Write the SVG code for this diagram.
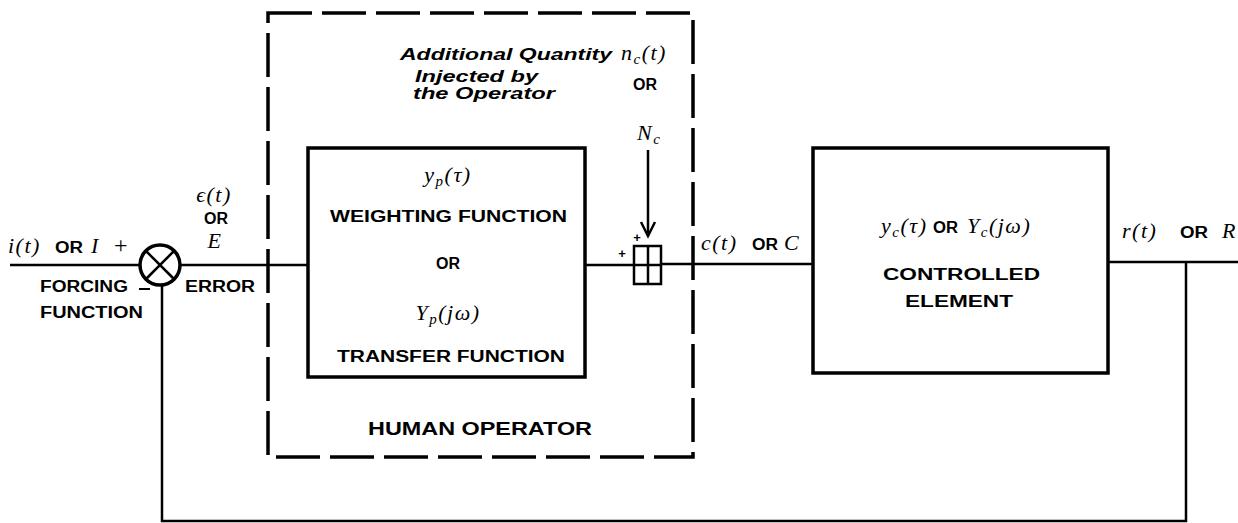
<svg xmlns="http://www.w3.org/2000/svg" width="1238" height="523" viewBox="0 0 1238 523">
<style>
.ln{stroke:#000;stroke-width:2.5;fill:none}
.box{stroke:#000;stroke-width:3.5;fill:none}
.dash{stroke:#000;stroke-width:3.5;fill:none;stroke-dasharray:44 10}
.cap{font-family:"Liberation Sans",Arial,sans-serif;font-weight:bold;font-size:16px;fill:#000}
.it{font-family:"Liberation Sans",Arial,sans-serif;font-style:italic;font-weight:bold;font-size:17px;fill:#000}
.m{font-family:"Liberation Serif","Times New Roman",serif;font-style:italic;font-size:22px;letter-spacing:1.5px;fill:#000}
.sub{font-size:15px}
.mid{text-anchor:middle}
</style>
<rect width="1238" height="523" fill="#fff"/>
<g id="connectors">
  <line class="ln" x1="10" y1="265" x2="140" y2="265"/>
  <line class="ln" x1="180" y1="265" x2="308" y2="265"/>
  <line class="ln" x1="585" y1="265" x2="634" y2="265"/>
  <line class="ln" x1="661" y1="264" x2="813" y2="264"/>
  <line class="ln" x1="1108" y1="262" x2="1238" y2="262"/>
  <polyline class="ln" points="1186,262 1186,521 162,521 162,285"/>
  <line class="ln" x1="648" y1="150" x2="648" y2="236" stroke-width="1.8"/>
  <polyline class="ln" points="641,222 648,236 655,222" stroke-width="1.8"/>
</g>
<g id="human-operator">
  <rect class="dash" x="268" y="13" width="425" height="444"/>
  <text class="cap" x="368" y="435" textLength="224" lengthAdjust="spacingAndGlyphs" style="font-size:19px">HUMAN OPERATOR</text>
</g>
<g id="summing-junction">
  <circle cx="160" cy="265" r="20" fill="#fff" stroke="#000" stroke-width="3.5"/>
  <line class="ln" x1="146" y1="251" x2="174" y2="279" stroke-width="3"/>
  <line class="ln" x1="174" y1="251" x2="146" y2="279" stroke-width="3"/>
</g>
<g id="input-labels">
  <text class="m" x="8" y="253">i(t)</text>
  <text class="cap" x="55" y="253" textLength="28" lengthAdjust="spacingAndGlyphs">OR</text>
  <text class="m" x="91" y="253">I</text>
  <text class="m" x="114" y="253" style="font-size:24px;font-style:normal">+</text>
  <text class="cap" x="40" y="292" textLength="88" lengthAdjust="spacingAndGlyphs">FORCING</text>
  <line x1="139" y1="289" x2="150" y2="289" stroke="#000" stroke-width="2"/>
  <text class="cap" x="40" y="318" textLength="103" lengthAdjust="spacingAndGlyphs">FUNCTION</text>
</g>
<g id="error-labels">
  <text class="m mid" x="214" y="202">ϵ(t)</text>
  <text class="cap mid" x="216" y="224">OR</text>
  <text class="m mid" x="215" y="248">E</text>
  <text class="cap" x="185" y="292" textLength="70" lengthAdjust="spacingAndGlyphs">ERROR</text>
</g>
<g id="weighting-function">
  <rect class="box" x="308" y="148" width="277" height="229"/>
  <text class="m mid" x="448" y="182">y<tspan class="sub" dy="4">p</tspan><tspan dy="-4">(τ)</tspan></text>
  <text class="cap" x="330" y="222" textLength="237" lengthAdjust="spacingAndGlyphs">WEIGHTING FUNCTION</text>
  <text class="cap mid" x="448" y="269">OR</text>
  <text class="m mid" x="448" y="320">Y<tspan class="sub" dy="4">p</tspan><tspan dy="-4">(jω)</tspan></text>
  <text class="cap" x="337" y="362" textLength="228" lengthAdjust="spacingAndGlyphs">TRANSFER FUNCTION</text>
</g>
<g id="injected-quantity">
  <text class="it" x="400" y="60" textLength="212" lengthAdjust="spacingAndGlyphs">Additional Quantity</text>
  <text class="m" x="621" y="60">n<tspan class="sub" dy="4">c</tspan><tspan dy="-4">(t)</tspan></text>
  <text class="it" x="415" y="82" textLength="123" lengthAdjust="spacingAndGlyphs">Injected by</text>
  <text class="it" x="413" y="99" textLength="142" lengthAdjust="spacingAndGlyphs">the Operator</text>
  <text class="cap mid" x="645" y="90">OR</text>
  <text class="m" x="637" y="140">N<tspan class="sub" dy="4">c</tspan></text>
</g>
<g id="adder">
  <rect x="634" y="246" width="27" height="38" fill="#fff" stroke="#000" stroke-width="2.5"/>
  <line class="ln" x1="648" y1="246" x2="648" y2="284" stroke-width="2"/>
  <line class="ln" x1="634" y1="265" x2="661" y2="265" stroke-width="2"/>
  <text class="cap mid" x="622" y="258" style="font-size:13px">+</text>
  <text class="cap mid" x="637" y="242" style="font-size:13px">+</text>
</g>
<g id="output-labels">
  <text class="m" x="701" y="250">c(t)</text>
  <text class="cap" x="752" y="250" textLength="26" lengthAdjust="spacingAndGlyphs">OR</text>
  <text class="m" x="784" y="250">C</text>
</g>
<g id="controlled-element">
  <rect class="box" x="813" y="148" width="295" height="225"/>
  <text class="m" x="881" y="233">y<tspan class="sub" dy="4">c</tspan><tspan dy="-4">(τ)</tspan></text>
  <text class="cap" x="933" y="233" textLength="25" lengthAdjust="spacingAndGlyphs">OR</text>
  <text class="m" x="967" y="233">Y<tspan class="sub" dy="4">c</tspan><tspan dy="-4">(jω)</tspan></text>
  <text class="cap" x="883" y="280" textLength="157" lengthAdjust="spacingAndGlyphs">CONTROLLED</text>
  <text class="cap" x="905" y="307" textLength="108" lengthAdjust="spacingAndGlyphs">ELEMENT</text>
</g>
<g id="response-labels">
  <text class="m" x="1122" y="238">r(t)</text>
  <text class="cap" x="1180" y="238" textLength="28" lengthAdjust="spacingAndGlyphs">OR</text>
  <text class="m" x="1222" y="238">R</text>
</g>
</svg>
